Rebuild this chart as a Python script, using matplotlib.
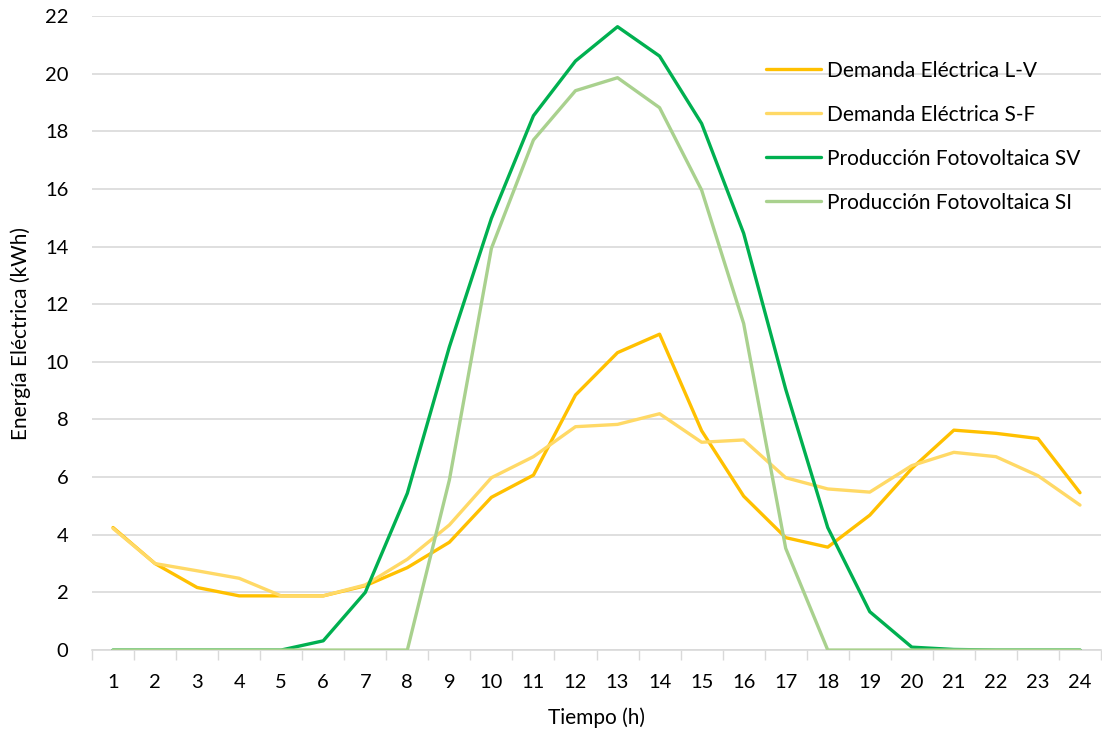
import numpy as np
import matplotlib.pyplot as plt

plt.rcParams['font.family'] = ['Lato', 'DejaVu Sans']

# Perfiles horarios (kWh)
horas = list(range(1, 25))
demanda_lv = [4.25, 3.0, 2.17, 1.88, 1.88, 1.88, 2.23, 2.86, 3.74, 5.3, 6.07, 8.85,
              10.32, 10.96, 7.61, 5.34, 3.9, 3.57, 4.68, 6.3, 7.63, 7.52, 7.34, 5.46]
demanda_sf = [4.22, 3.0, 2.75, 2.49, 1.88, 1.88, 2.26, 3.15, 4.34, 5.98, 6.71, 7.75,
              7.83, 8.2, 7.21, 7.29, 5.98, 5.59, 5.48, 6.4, 6.86, 6.71, 6.05, 5.03]
pv_sv = [0, 0, 0, 0, 0, 0.32, 2.0, 5.44, 10.52, 14.98, 18.54, 20.44,
         21.63, 20.61, 18.27, 14.46, 9.05, 4.25, 1.33, 0.1, 0.02, 0, 0, 0]
pv_si = [0, 0, 0, 0, 0, 0, 0, 0, 5.9, 13.94, 17.7, 19.41,
         19.86, 18.82, 15.96, 11.33, 3.53, 0, 0, 0, 0, 0, 0, 0]

series = [
    ("Demanda Eléctrica L-V", demanda_lv, "#FFC000"),
    ("Demanda Eléctrica S-F", demanda_sf, "#FFD966"),
    ("Producción Fotovoltaica SV", pv_sv, "#00B050"),
    ("Producción Fotovoltaica SI", pv_si, "#A9D18E"),
]

fig = plt.figure(figsize=(11.02, 7.36), dpi=100)
ax = fig.add_axes([0.0835, 0.1168, 0.9156, 0.8614])

for nombre, valores, color in series:
    ax.plot(horas, valores, color=color, lw=2.4, label=nombre,
            solid_joinstyle='round', solid_capstyle='round', zorder=3)

ax.set_xlim(0.5, 24.5)
ax.set_ylim(0, 22)
ax.set_yticks(np.arange(0, 23, 2))
ax.set_xticks(horas)
ax.set_xticks(np.arange(0.5, 25, 1), minor=True)
ax.tick_params(axis='x', which='major', length=0, pad=17, labelsize=14.5)
ax.tick_params(axis='x', which='minor', length=7, width=1, color='#D9D9D9')
ax.tick_params(axis='y', length=0, pad=17, labelsize=14.5)

ax.grid(axis='y', color='#D9D9D9', lw=1.2, zorder=0)
for lado in ['left', 'right', 'top']:
    ax.spines[lado].set_visible(False)
ax.spines['bottom'].set_color('#D9D9D9')
ax.spines['bottom'].set_linewidth(1.2)

ax.set_xlabel("Tiempo (h)", fontsize=15, labelpad=12)
ax.set_ylabel("Energía Eléctrica (kWh)", fontsize=15, labelpad=10)

ax.legend(loc='upper left', bbox_to_anchor=(0.658, 0.946), frameon=False,
          fontsize=15, handlelength=2.6, handletextpad=0.3, labelspacing=1.15,
          borderpad=0)

fig.savefig("out.png", dpi=100)
